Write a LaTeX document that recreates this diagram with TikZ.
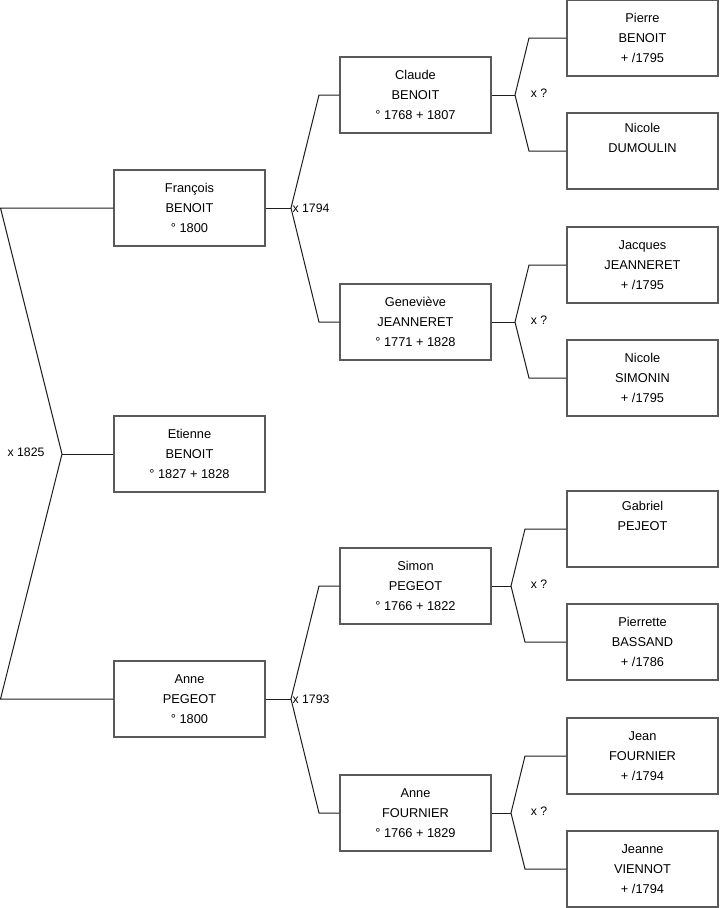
\documentclass[tikz,border=0pt]{standalone}
\usepackage{fontspec}
\setmainfont{Liberation Sans}
\usetikzlibrary{positioning}
\definecolor{FamFrame}{HTML}{5A5A5A}
\definecolor{FamLine}{HTML}{1E1E1E}
\tikzset{
  famperson/.style={
    draw=FamFrame,
    line width=0.9pt,
    minimum width=113.25pt,
    minimum height=57pt,
    align=center,
    inner sep=0pt,
    font=\fontsize{9.6}{15}\selectfont
  },
  famlink/.style={draw=FamLine,line width=0.75pt},
  famunion/.style={font=\fontsize{9.2}{11}\selectfont,inner sep=1pt}
}

\begin{document}
\begin{tikzpicture}[x=0.75pt,y=-0.75pt]
    \useasboundingbox (0,0) rectangle (719,908);
    % children of the couple
    \node[famperson] (fra) at (189.5,208) {François\\BENOIT\\° 1800};
    \node[famperson] (eti) at (189.5,454) {Etienne\\BENOIT\\° 1827 + 1828};
    \node[famperson] (ann) at (189.5,699) {Anne\\PEGEOT\\° 1800};
    % parents
    \node[famperson] (cla) at (415.5,95) {Claude\\BENOIT\\° 1768 + 1807};
    \node[famperson] (gen) at (415.5,322) {Geneviève\\JEANNERET\\° 1771 + 1828};
    \node[famperson] (sim) at (415.5,586) {Simon\\PEGEOT\\° 1766 + 1822};
    \node[famperson] (afo) at (415.5,813) {Anne\\FOURNIER\\° 1766 + 1829};
    % grandparents
    \node[famperson] (pie) at (642.5,38) {Pierre\\BENOIT\\+ /1795};
    \node[famperson] (ndu) at (642.5,151) {Nicole\\DUMOULIN\\\strut};
    \node[famperson] (jac) at (642.5,265) {Jacques\\JEANNERET\\+ /1795};
    \node[famperson] (nsi) at (642.5,378) {Nicole\\SIMONIN\\+ /1795};
    \node[famperson] (gab) at (642.5,529) {Gabriel\\PEJEOT\\\strut};
    \node[famperson] (pba) at (642.5,642) {Pierrette\\BASSAND\\+ /1786};
    \node[famperson] (jea) at (642.5,756) {Jean\\FOURNIER\\+ /1794};
    \node[famperson] (jvi) at (642.5,869) {Jeanne\\VIENNOT\\+ /1794};
    % forks
    \coordinate (m0a) at (0.5,208);
    \coordinate (m0) at (62,454);
    \coordinate (m0b) at (0.5,699);
    \coordinate (m1) at (291,208);
    \coordinate (m1a) at (319,95);
    \coordinate (m1b) at (319,322);
    \coordinate (m2) at (291,699);
    \coordinate (m2a) at (319,586);
    \coordinate (m2b) at (319,813);
    \coordinate (m3) at (515,95);
    \coordinate (m3a) at (529,38);
    \coordinate (m3b) at (529,151);
    \coordinate (m4) at (515,322);
    \coordinate (m4a) at (529,265);
    \coordinate (m4b) at (529,378);
    \coordinate (m5) at (511,586);
    \coordinate (m5a) at (525,529);
    \coordinate (m5b) at (525,642);
    \coordinate (m6) at (511,813);
    \coordinate (m6a) at (525,756);
    \coordinate (m6b) at (525,869);
    \draw[famlink] (fra.west) -- (m0a) -- (m0) -- (m0b) -- (ann.west);
    \draw[famlink] (m0) -- (eti.west);
    \draw[famlink] (fra.east) -- (m1);
    \draw[famlink] (cla.west) -- (m1a) -- (m1) -- (m1b) -- (gen.west);
    \draw[famlink] (ann.east) -- (m2);
    \draw[famlink] (sim.west) -- (m2a) -- (m2) -- (m2b) -- (afo.west);
    \draw[famlink] (cla.east) -- (m3);
    \draw[famlink] (pie.west) -- (m3a) -- (m3) -- (m3b) -- (ndu.west);
    \draw[famlink] (gen.east) -- (m4);
    \draw[famlink] (jac.west) -- (m4a) -- (m4) -- (m4b) -- (nsi.west);
    \draw[famlink] (sim.east) -- (m5);
    \draw[famlink] (gab.west) -- (m5a) -- (m5) -- (m5b) -- (pba.west);
    \draw[famlink] (afo.east) -- (m6);
    \draw[famlink] (jea.west) -- (m6a) -- (m6) -- (m6b) -- (jvi.west);
    % marriage dates
    \node[famunion] (u0) at (26,452) {x 1825};
    \node[famunion,anchor=west] (u1) at (m1) {x 1794};
    \node[famunion,anchor=west] (u2) at (m2) {x 1793};
    \node[famunion] (u3) at (539,93) {x ?};
    \node[famunion] (u4) at (539,320) {x ?};
    \node[famunion] (u5) at (539,584) {x ?};
    \node[famunion] (u6) at (539,811) {x ?};
  \end{tikzpicture}
\end{document}
